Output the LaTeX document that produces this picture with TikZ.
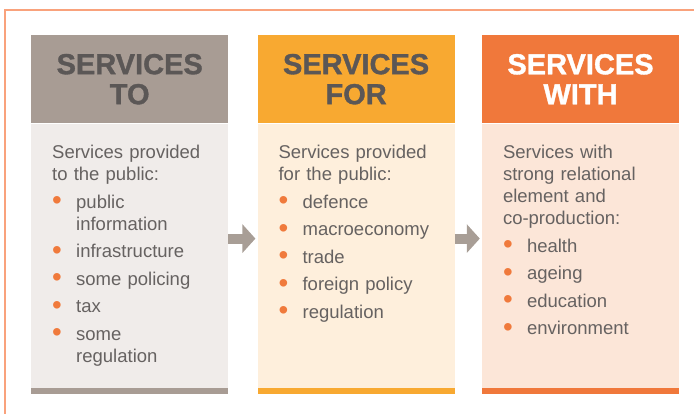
\documentclass[tikz,border=0pt]{standalone}
\usepackage{fontspec}
\setmainfont{Liberation Sans}
\newfontfamily\heavyfont[FakeBold=1.2]{Liberation Sans Bold}
\usepackage{graphicx}
\usepackage{tikz}
\usetikzlibrary{positioning, arrows.meta}

\definecolor{headgray}{HTML}{A89C94}
\definecolor{bodygray}{HTML}{F0ECEA}
\definecolor{headyellow}{HTML}{F8A931}
\definecolor{bodyyellow}{HTML}{FEEFDC}
\definecolor{headorange}{HTML}{F0783B}
\definecolor{bodyorange}{HTML}{FCE6D8}
\definecolor{dotorange}{HTML}{F07A3C}
\definecolor{inkgray}{HTML}{666261}
\definecolor{darkink}{HTML}{5B5756}
\definecolor{framecol}{HTML}{F9A27C}
\definecolor{arrowgray}{HTML}{A89E96}

% one bullet item, wrapped lines hang under the text
\newcommand\svitem[1]{\par\vspace{5.5pt}\hangindent=24pt\hangafter=1\noindent
  \makebox[24pt][l]{\raisebox{-1.5pt}{\textcolor{dotorange}{\scalebox{1.5}{\textbullet}}}}#1\par}

\begin{document}
\begin{tikzpicture}[
  x=1pt, y=-1pt,
  head/.style={rectangle, minimum width=197pt, minimum height=88pt, inner sep=0pt,
    align=center, font=\heavyfont\fontsize{29}{30}\selectfont},
  body/.style={rectangle, minimum width=197pt, minimum height=264pt, inner sep=0pt},
  bar/.style={rectangle, minimum width=197pt, minimum height=6pt, inner sep=0pt},
  listtext/.style={anchor=north west, inner sep=0pt, text width=170pt, align=left,
    text=inkgray, font=\fontsize{18.5}{22}\selectfont},
  flow/.style={draw=arrowgray, line width=10pt,
    -{Triangle[width=28pt, length=13pt]}, shorten >=2pt}
]
\useasboundingbox (0,0) rectangle (694,414);

% Frame
\draw[framecol, line width=1.5pt] (694,10) -- (5,10) -- (5,414);

% Headers
\node[head, fill=headgray, text=darkink, anchor=north west] (headTo) at (31,35) {SERVICES\\TO};
\node[head, fill=headyellow, text=darkink, right=29pt of headTo] (headFor) {SERVICES\\FOR};
\node[head, fill=headorange, text=white, right=27pt of headFor] (headWith) {SERVICES\\WITH};

% Bodies
\node[body, fill=bodygray, below=0pt of headTo] (bodyTo) {};
\node[body, fill=bodyyellow, below=0pt of headFor] (bodyFor) {};
\node[body, fill=bodyorange, below=0pt of headWith] (bodyWith) {};

% Bottom bars
\node[bar, fill=headgray, below=0pt of bodyTo] (barTo) {};
\node[bar, fill=headyellow, below=0pt of bodyFor] (barFor) {};
\node[bar, fill=headorange, below=0pt of bodyWith] (barWith) {};

% Lists
\node[listtext] (listTo) at ([xshift=21pt, yshift=-21.5pt]bodyTo.north west) {%
  Services provided\\ to the public:
  \svitem{public\newline information}
  \svitem{infrastructure}
  \svitem{some policing}
  \svitem{tax}
  \svitem{some\newline regulation}};
\node[listtext] (listFor) at ([xshift=21pt, yshift=-21.5pt]bodyFor.north west) {%
  Services provided\\ for the public:
  \svitem{defence}
  \svitem{macroeconomy}
  \svitem{trade}
  \svitem{foreign policy}
  \svitem{regulation}};
\node[listtext] (listWith) at ([xshift=21pt, yshift=-21.5pt]bodyWith.north west) {%
  Services with\\ strong relational\\ element and\\ co-production:
  \svitem{health}
  \svitem{ageing}
  \svitem{education}
  \svitem{environment}};

% Arrows
\draw[flow] ([yshift=17pt]bodyTo.east) -- ([yshift=17pt]bodyFor.west);
\draw[flow] ([yshift=17pt]bodyFor.east) -- ([yshift=17pt]bodyWith.west);

\end{tikzpicture}
\end{document}
